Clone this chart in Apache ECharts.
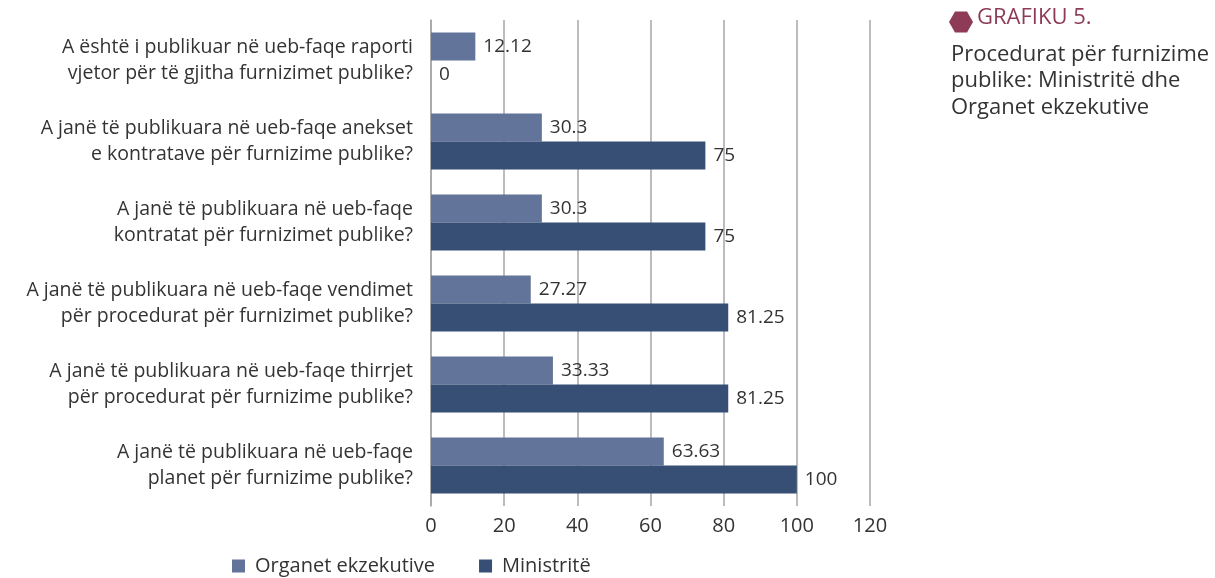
<!DOCTYPE html>
<html lang="sq">
<head>
    <meta charset="UTF-8">
    <title>Grafiku 5</title>
    <script src="https://cdn.jsdelivr.net/npm/echarts@6/dist/echarts.min.js"></script>
    <style>
        html, body { margin: 0; padding: 0; background: #fff; }
        #main { width: 1215px; height: 578px; }
    </style>
</head>
<body>
<div id="main"></div>
<script>
    // pyetjet (nga lart poshtë)
    const categories = [
        'A është i publikuar në ueb-faqe raporti\nvjetor për të gjitha furnizimet publike?',
        'A janë të publikuara në ueb-faqe anekset\ne kontratave për furnizime publike?',
        'A janë të publikuara në ueb-faqe\nkontratat për furnizimet publike?',
        'A janë të publikuara në ueb-faqe vendimet\npër procedurat për furnizimet publike?',
        'A janë të publikuara në ueb-faqe thirrjet\npër procedurat për furnizime publike?',
        'A janë të publikuara në ueb-faqe\nplanet për furnizime publike?'
    ];
    const organet = [12.12, 30.3, 30.3, 27.27, 33.33, 63.63];
    const ministrite = [0, 75, 75, 81.25, 81.25, 100];
    const seriesNames = ['Organet ekzekutive', 'Ministritë'];

    const font = '"Open Sans", "Noto Sans", sans-serif';
    const chart = echarts.init(document.getElementById('main'));

    const label = {
        show: true,
        position: 'right',
        distance: 8,
        color: '#333',
        fontSize: 19,
        fontFamily: font
    };

    chart.setOption({
        textStyle: { fontFamily: font },
        animation: false,
        grid: { left: 431, top: 20, width: 439, height: 486, containLabel: false },
        legend: {
            left: 232,
            top: 556,
            padding: 0,
            icon: 'rect',
            itemWidth: 13,
            itemHeight: 13,
            itemGap: 44,
            textStyle: { fontSize: 20, color: '#333', fontFamily: font, padding: [0, 0, 0, 5] },
            data: seriesNames
        },
        xAxis: {
            type: 'value',
            min: 0,
            max: 120,
            interval: 20,
            axisLine: { show: false },
            axisTick: { show: false },
            splitLine: { lineStyle: { color: '#a6a6a6', width: 1.5 } },
            axisLabel: { fontSize: 20, color: '#333', margin: 10 }
        },
        yAxis: {
            type: 'category',
            inverse: true,
            data: categories,
            axisLine: { lineStyle: { color: '#a6a6a6', width: 1.5 } },
            axisTick: { show: false },
            axisLabel: { fontSize: 19.5, color: '#333', lineHeight: 26, margin: 18, align: 'right' }
        },
        series: [
            {
                name: seriesNames[0],
                type: 'bar',
                data: organet,
                barWidth: 28,
                barGap: '0%',
                itemStyle: { color: '#627499' },
                label: label
            },
            {
                name: seriesNames[1],
                type: 'bar',
                data: ministrite,
                barWidth: 28,
                barGap: '0%',
                itemStyle: { color: '#374f75' },
                label: label
            }
        ],
        graphic: [
            {
                type: 'polygon',
                shape: { points: [[949, 22], [955, 11.5], [967, 11.5], [973, 22], [967, 32.5], [955, 32.5]] },
                style: { fill: '#8e3b58' }
            },
            {
                type: 'text',
                left: 977,
                top: 7,
                style: { text: 'GRAFIKU 5.', fontSize: 22, fill: '#8e3b58', fontFamily: font }
            },
            {
                type: 'text',
                left: 951,
                top: 41,
                style: {
                    text: 'Procedurat për furnizime\npublike: Ministritë dhe\nOrganet ekzekutive',
                    fontSize: 22,
                    lineHeight: 26.5,
                    fill: '#333',
                    fontFamily: font
                }
            }
        ]
    });
</script>
</body>
</html>
